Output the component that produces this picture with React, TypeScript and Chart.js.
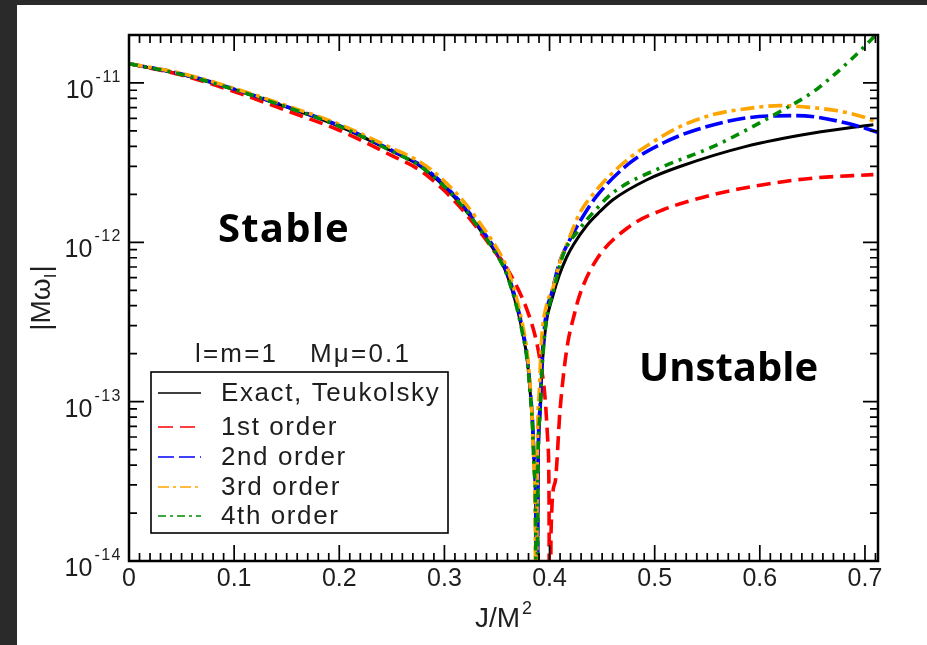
import React, { useEffect, useRef } from 'react';
import { Chart, registerables } from 'chart.js';

Chart.register(...registerables);

// ---------- data ----------
const X_TICK_VALUES = [0, 0.1, 0.2, 0.3, 0.4, 0.5, 0.6, 0.7];
const Y_DECADES = [-14, -13, -12, -11];
const X_MIN = 0;
const X_MAX = 0.7124;
const Y_MIN = 1e-14;
const Y_MAX = 2e-11;

const SERIES_LABELS = ['Exact, Teukolsky', '1st order', '2nd order', '3rd order', '4th order'];

const exactX = [0, 0.05, 0.1, 0.15, 0.2, 0.25, 0.275, 0.2891, 0.2996, 0.3101, 0.3215, 0.3367, 0.3481, 0.3576, 0.3643, 0.37, 0.3747, 0.3785, 0.3814, 0.3838, 0.3857, 0.3871, 0.3877, 0.389, 0.3909, 0.3928, 0.3966, 0.4027, 0.4094, 0.416, 0.4227, 0.436, 0.448, 0.4603, 0.4927, 0.524, 0.587, 0.651, 0.708];
const exactY = [1.32e-11, 1.13e-11, 9.1e-12, 7.05e-12, 5.35e-12, 3.73e-12, 3.07e-12, 2.6e-12, 2.25e-12, 1.9e-12, 1.55e-12, 1.13e-12, 8.73e-13, 6.73e-13, 5.04e-13, 3.67e-13, 2.63e-13, 1.89e-13, 1.19e-13, 7.16e-14, 3.73e-14, 1.57e-14, 1e-16, 3.2e-14, 8.03e-14, 1.58e-13, 3.04e-13, 4.49e-13, 6.26e-13, 8.0e-13, 9.66e-13, 1.29e-12, 1.56e-12, 1.85e-12, 2.47e-12, 2.99e-12, 4.0e-12, 4.85e-12, 5.47e-12];

const firstX = [0, 0.05, 0.1, 0.15, 0.2, 0.25, 0.275, 0.2891, 0.2996, 0.3101, 0.3215, 0.3367, 0.3481, 0.3529, 0.3624, 0.369, 0.3785, 0.3862, 0.3909, 0.3957, 0.3985, 0.3995, 0.4002, 0.4014, 0.4052, 0.41, 0.4163, 0.4239, 0.4288, 0.4446, 0.4763, 0.508, 0.5557, 0.6033, 0.6508, 0.708];
const firstY = [1.32e-11, 1.12e-11, 8.85e-12, 6.7e-12, 5.05e-12, 3.5e-12, 2.88e-12, 2.45e-12, 2.12e-12, 1.8e-12, 1.48e-12, 1.1e-12, 8.7e-13, 8.0e-13, 6.36e-13, 5.26e-13, 3.78e-13, 2.6e-13, 1.83e-13, 1.06e-13, 5.36e-14, 2.42e-14, 1e-16, 1.5e-14, 3.1e-14, 8.9e-14, 2.12e-13, 3.6e-13, 4.7e-13, 7.78e-13, 1.26e-12, 1.6e-12, 1.99e-12, 2.3e-12, 2.53e-12, 2.66e-12];

const secondX = [0, 0.05, 0.1, 0.15, 0.2, 0.25, 0.275, 0.2891, 0.2996, 0.3101, 0.3215, 0.3367, 0.3481, 0.3576, 0.3643, 0.37, 0.3747, 0.3785, 0.3814, 0.3838, 0.3857, 0.3871, 0.3878, 0.389, 0.3909, 0.3928, 0.3966, 0.402, 0.4095, 0.4193, 0.4288, 0.4446, 0.4763, 0.508, 0.5397, 0.587, 0.635, 0.6823, 0.7124];
const secondY = [1.32e-11, 1.14e-11, 9.15e-12, 7.1e-12, 5.4e-12, 3.78e-12, 3.12e-12, 2.66e-12, 2.3e-12, 1.95e-12, 1.6e-12, 1.17e-12, 9.1e-13, 7.0e-13, 5.25e-13, 3.85e-13, 2.75e-13, 1.97e-13, 1.24e-13, 7.5e-14, 3.9e-14, 1.65e-14, 1e-16, 3.6e-14, 9e-14, 1.8e-13, 3.5e-13, 4.8e-13, 7.5e-13, 1.04e-12, 1.35e-12, 1.94e-12, 3.15e-12, 4.2e-12, 5.09e-12, 6.03e-12, 6.24e-12, 5.61e-12, 4.9e-12];

const thirdX = [0, 0.05, 0.1, 0.15, 0.2, 0.25, 0.275, 0.2891, 0.2996, 0.3101, 0.3215, 0.3367, 0.3481, 0.3576, 0.3643, 0.37, 0.3747, 0.3785, 0.3814, 0.3835, 0.3852, 0.3864, 0.387, 0.3883, 0.39, 0.3925, 0.397, 0.4033, 0.4099, 0.4166, 0.4289, 0.4442, 0.4603, 0.4765, 0.4927, 0.5241, 0.5555, 0.5878, 0.6189, 0.6508, 0.6832, 0.7076, 0.7124];
const thirdY = [1.32e-11, 1.15e-11, 9.25e-12, 7.2e-12, 5.5e-12, 3.9e-12, 3.25e-12, 2.8e-12, 2.43e-12, 2.07e-12, 1.7e-12, 1.24e-12, 9.6e-13, 7.4e-13, 5.6e-13, 4.1e-13, 2.95e-13, 2.1e-13, 1.3e-13, 7.8e-14, 3.9e-14, 1.6e-14, 1e-16, 4e-14, 1.1e-13, 2.5e-13, 4e-13, 5.19e-13, 7.55e-13, 9.8e-13, 1.53e-12, 2.11e-12, 2.74e-12, 3.4e-12, 4.04e-12, 5.32e-12, 6.33e-12, 6.9e-12, 7.21e-12, 7.0e-12, 6.51e-12, 5.8e-12, 5.55e-12];

const fourthX = [0, 0.05, 0.1, 0.15, 0.2, 0.25, 0.275, 0.2891, 0.2996, 0.3101, 0.3215, 0.3367, 0.3481, 0.3576, 0.3643, 0.37, 0.3747, 0.3785, 0.3814, 0.3838, 0.3855, 0.3868, 0.3874, 0.3888, 0.3907, 0.3928, 0.3966, 0.4035, 0.4128, 0.4289, 0.4446, 0.4603, 0.5079, 0.5555, 0.5878, 0.6189, 0.6508, 0.6696, 0.6886, 0.7076, 0.7124];
const fourthY = [1.32e-11, 1.13e-11, 9.1e-12, 7.05e-12, 5.35e-12, 3.73e-12, 3.07e-12, 2.6e-12, 2.25e-12, 1.9e-12, 1.55e-12, 1.13e-12, 8.7e-13, 6.7e-13, 5.0e-13, 3.63e-13, 2.6e-13, 1.86e-13, 1.17e-13, 7e-14, 3.6e-14, 1.5e-14, 1e-16, 3.2e-14, 8e-14, 1.6e-13, 3.1e-13, 4.9e-13, 8.3e-13, 1.22e-12, 1.62e-12, 2.05e-12, 2.98e-12, 3.98e-12, 5.09e-12, 6.6e-12, 8.8e-12, 1.11e-11, 1.44e-11, 1.92e-11, 2.07e-11];

const SERIES_X = [exactX, firstX, secondX, thirdX, fourthX];
const SERIES_Y = [exactY, firstY, secondY, thirdY, fourthY];

// ---------- styles ----------
const FONT = '"Liberation Sans", Arial, Helvetica, sans-serif';
const STYLES = [
  { color: '#000000', width: 3, dash: [] as number[], legendDash: [] as number[] },
  { color: '#ff0000', width: 3.6, dash: [14, 7], legendDash: [15, 7] },
  { color: '#0000ff', width: 3.6, dash: [18, 5], legendDash: [16, 5] },
  { color: '#ffa500', width: 3.6, dash: [14, 5, 4, 5], legendDash: [11, 4, 3, 4] },
  { color: '#008b00', width: 3.6, dash: [9, 6, 3, 6], legendDash: [8, 4, 3, 4] },
];

function setSpacing(ctx: CanvasRenderingContext2D, s: string) {
  (ctx as any).letterSpacing = s;
}

const decorPlugin = {
  id: 'decor',
  beforeDraw(chart: any) {
    const { ctx, width, height } = chart;
    ctx.save();
    ctx.fillStyle = '#2a2a2a';
    ctx.fillRect(0, 0, width, height);
    ctx.fillStyle = '#ffffff';
    ctx.fillRect(17, 5, width - 17, height - 5);
    ctx.restore();
  },
  afterDraw(chart: any) {
    const { ctx, chartArea: a, scales } = chart;
    const xs = scales.x;
    const ys = scales.y;
    ctx.save();

    // inward ticks on all four sides
    ctx.strokeStyle = '#000';
    ctx.lineWidth = 1.7;
    ctx.beginPath();
    for (let k = 0; k <= Math.floor(X_MAX * 100 + 1e-9); k++) {
      const px = xs.getPixelForValue(k / 100);
      const len = k % 10 === 0 ? 16 : 8;
      ctx.moveTo(px, a.bottom);
      ctx.lineTo(px, a.bottom - len);
      ctx.moveTo(px, a.top);
      ctx.lineTo(px, a.top + len);
    }
    for (const n of Y_DECADES) {
      for (let m = 1; m <= 9; m++) {
        const v = m * Math.pow(10, n);
        if (v > Y_MAX * 1.0001) continue;
        const py = ys.getPixelForValue(v);
        const len = m === 1 ? 15 : 8;
        ctx.moveTo(a.left, py);
        ctx.lineTo(a.left + len, py);
        ctx.moveTo(a.right, py);
        ctx.lineTo(a.right - len, py);
      }
    }
    ctx.stroke();

    // frame
    ctx.lineWidth = 2.5;
    ctx.strokeRect(a.left, a.top, a.right - a.left, a.bottom - a.top);

    ctx.fillStyle = '#1e1e1e';
    // y tick labels (10^n)
    for (const n of Y_DECADES) {
      const py = ys.getPixelForValue(Math.pow(10, n));
      ctx.font = `16px ${FONT}`;
      setSpacing(ctx, '1.5px');
      ctx.textAlign = 'right';
      ctx.textBaseline = 'alphabetic';
      const exp = String(n);
      ctx.fillText(exp, a.left - 7, py - 1);
      const ew = ctx.measureText(exp).width;
      ctx.font = `25px ${FONT}`;
      setSpacing(ctx, '0px');
      ctx.fillText('10', a.left - 7 - ew - 2, py + 15);
    }

    // x axis title J/M^2
    ctx.textAlign = 'left';
    ctx.font = `28px ${FONT}`;
    const cx = (a.left + a.right) / 2;
    const mainW = ctx.measureText('J/M').width;
    ctx.font = `18px ${FONT}`;
    const supW = ctx.measureText('2').width;
    const startX = cx - (mainW + supW + 2) / 2;
    ctx.font = `28px ${FONT}`;
    ctx.fillText('J/M', startX, 627);
    ctx.font = `18px ${FONT}`;
    ctx.fillText('2', startX + mainW + 2, 614);

    // y axis title |Mω_I|
    ctx.save();
    const cy = (a.top + a.bottom) / 2;
    ctx.translate(50, cy);
    ctx.rotate(-Math.PI / 2);
    ctx.font = `28px ${FONT}`;
    const w1 = ctx.measureText('|Mω').width;
    const w3 = ctx.measureText('|').width;
    ctx.font = `17px ${FONT}`;
    const w2 = ctx.measureText('I').width;
    const total = w1 + w2 + w3 + 1;
    let tx = -total / 2;
    ctx.font = `28px ${FONT}`;
    ctx.fillText('|Mω', tx, 0);
    tx += w1;
    ctx.font = `17px ${FONT}`;
    ctx.fillText('I', tx, 6);
    tx += w2 + 1;
    ctx.font = `28px ${FONT}`;
    ctx.fillText('|', tx, 0);
    ctx.restore();

    // legend
    ctx.fillStyle = '#1e1e1e';
    ctx.font = `26px ${FONT}`;
    setSpacing(ctx, '2.2px');
    ctx.textAlign = 'left';
    ctx.fillText('l=m=1', 195, 362);
    ctx.fillText('Mμ=0.1', 310, 362);
    setSpacing(ctx, '1.6px');
    ctx.lineWidth = 1.6;
    ctx.strokeStyle = '#000';
    ctx.setLineDash([]);
    ctx.strokeRect(151, 372, 297, 161);
    const baselines = [401, 435, 465, 495, 524];
    chart.data.datasets.forEach((ds: any, i: number) => {
      const yb = baselines[i];
      ctx.save();
      ctx.strokeStyle = STYLES[i].color;
      ctx.lineWidth = 1.6;
      ctx.setLineDash(STYLES[i].legendDash);
      ctx.beginPath();
      ctx.moveTo(158, yb - 8);
      ctx.lineTo(201, yb - 8);
      ctx.stroke();
      ctx.restore();
      ctx.fillText(ds.label, 221, yb);
    });

    // region annotations
    ctx.fillStyle = '#000';
    ctx.font = `bold 40px "Open Sans", "Noto Sans", sans-serif`;
    setSpacing(ctx, '1.2px');
    ctx.fillText('Stable', 218, 242);
    setSpacing(ctx, '0px');
    ctx.fillText('Unstable', 639, 381);

    ctx.restore();
  },
};

export default function App() {
  const canvasRef = useRef<HTMLCanvasElement | null>(null);

  useEffect(() => {
    const canvas = canvasRef.current;
    if (!canvas) return;
    const datasets = SERIES_LABELS.map((label, i) => ({
      label,
      data: SERIES_X[i].map((xv, j) => ({ x: xv, y: SERIES_Y[i][j] })),
      borderColor: STYLES[i].color,
      backgroundColor: STYLES[i].color,
      borderWidth: STYLES[i].width,
      borderDash: STYLES[i].dash,
      borderCapStyle: 'butt' as const,
      pointRadius: 0,
      fill: false,
      cubicInterpolationMode: 'monotone' as const,
      capBezierPoints: false,
      order: 5 - i,
    }));

    const chart = new Chart(canvas, {
      type: 'line',
      data: { datasets },
      options: {
        animation: false,
        responsive: false,
        devicePixelRatio: 1,
        layout: { padding: { left: 0, top: 35, right: 49, bottom: 0 } },
        plugins: {
          legend: { display: false },
          tooltip: { enabled: false },
          title: { display: false },
        },
        scales: {
          x: {
            type: 'linear',
            min: X_MIN,
            max: X_MAX,
            grid: { display: false, drawTicks: false },
            border: { display: false },
            afterFit: (s: any) => {
              s.height = 84;
            },
            afterBuildTicks: (s: any) => {
              s.ticks = X_TICK_VALUES.map((v) => ({ value: v }));
            },
            ticks: {
              autoSkip: false,
              maxRotation: 0,
              padding: 3,
              color: '#1e1e1e',
              font: { family: FONT, size: 25 },
              callback: (v: any) => (Number(v) === 0 ? '0' : Number(v).toFixed(1)),
            },
          },
          y: {
            type: 'logarithmic',
            min: Y_MIN,
            max: Y_MAX,
            grid: { display: false, drawTicks: false },
            border: { display: false },
            ticks: { display: false },
            afterFit: (s: any) => {
              s.width = 129;
            },
          },
        },
      },
      plugins: [decorPlugin],
    });
    return () => chart.destroy();
  }, []);

  return (
    <div style={{ position: 'fixed', left: 0, top: 0, width: 927, height: 645, background: '#2a2a2a' }}>
      <canvas ref={canvasRef} width={927} height={645} style={{ display: 'block', width: 927, height: 645 }} />
    </div>
  );
}
